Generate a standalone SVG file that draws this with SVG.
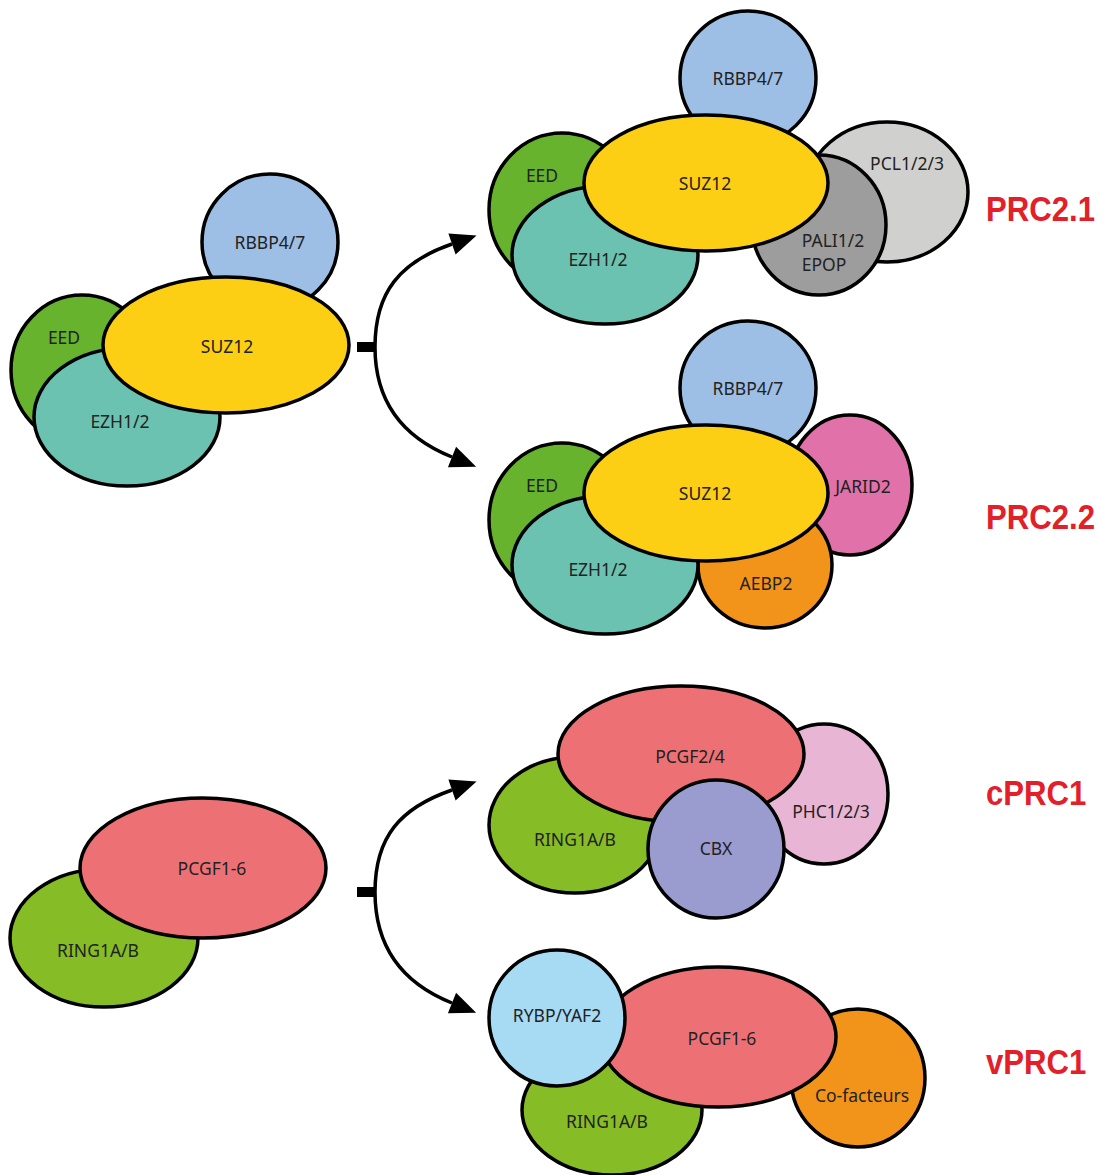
<svg xmlns="http://www.w3.org/2000/svg" width="1103" height="1175" viewBox="0 0 1103 1175">
<style>
.n{stroke:#000;stroke-width:3.5}
.t{font-family:"Noto Sans","Open Sans",sans-serif;font-size:17.5px;fill:#222;text-anchor:middle;dominant-baseline:central}
.lbl{font-family:"Liberation Sans",Arial,sans-serif;font-weight:bold;font-size:35px;fill:#e3202a}
.c{fill:none;stroke:#000;stroke-width:3.5}
.rbbp{fill:#9dbfe5}.eed{fill:#67b32e}.ezh{fill:#6bc2b0}.suz{fill:#fccf14}
.pcl{fill:#d0d0cf}.pali{fill:#9d9d9d}.jarid{fill:#e171a9}.aebp{fill:#f2941a}
.pcgf{fill:#ed7174}.ring{fill:#86bc25}.phc{fill:#e9b5d4}.cbx{fill:#9a9bcf}.rybp{fill:#a7daf3}.cof{fill:#f2941a}
</style>
<defs>
<marker id="ah" markerUnits="userSpaceOnUse" markerWidth="30" markerHeight="30" viewBox="-2 -15 30 30" refX="0" refY="0" orient="auto">
<path d="M0,-11 L26,0 L0,11 Z" fill="#000"/>
</marker>
</defs>

<g id="prc2-base">
<g id="n-rbbp-a"><ellipse class="n rbbp" cx="270" cy="242" rx="68" ry="68"/><text class="t" x="270" y="242">RBBP4/7</text></g>
<g id="n-eed-a"><ellipse class="n eed" cx="82" cy="370" rx="71" ry="75"/><text class="t" x="64" y="337">EED</text></g>
<g id="n-ezh-a"><ellipse class="n ezh" cx="127" cy="417" rx="93" ry="69"/><text class="t" x="120" y="421">EZH1/2</text></g>
<g id="n-suz-a"><ellipse class="n suz" cx="226" cy="345" rx="123" ry="68"/><text class="t" x="227" y="346">SUZ12</text></g>
</g>

<g id="prc2-1">
<g id="n-rbbp-b"><ellipse class="n rbbp" cx="748" cy="78" rx="68" ry="67"/><text class="t" x="748" y="78">RBBP4/7</text></g>
<g id="n-pcl"><ellipse class="n pcl" cx="887" cy="192" rx="81" ry="70"/><text class="t" x="907" y="163">PCL1/2/3</text></g>
<g id="n-pali"><ellipse class="n pali" cx="819" cy="225" rx="67" ry="70"/><text class="t" x="833" y="240">PALI1/2</text><text class="t" x="824" y="264">EPOP</text></g>
<g id="n-eed-b"><ellipse class="n eed" cx="562" cy="210" rx="73" ry="77"/><text class="t" x="542" y="175">EED</text></g>
<g id="n-ezh-b"><ellipse class="n ezh" cx="605" cy="255" rx="93" ry="69"/><text class="t" x="598" y="259">EZH1/2</text></g>
<g id="n-suz-b"><ellipse class="n suz" cx="706" cy="183" rx="122" ry="68"/><text class="t" x="705" y="183">SUZ12</text></g>
</g>

<g id="prc2-2">
<g id="n-rbbp-c"><ellipse class="n rbbp" cx="748" cy="388" rx="68" ry="67"/><text class="t" x="748" y="388">RBBP4/7</text></g>
<g id="n-jarid"><ellipse class="n jarid" cx="850" cy="485" rx="62" ry="70"/><text class="t" x="863" y="486">JARID2</text></g>
<g id="n-aebp"><ellipse class="n aebp" cx="765" cy="565" rx="67" ry="63"/><text class="t" x="766" y="583">AEBP2</text></g>
<g id="n-eed-c"><ellipse class="n eed" cx="562" cy="520" rx="73" ry="77"/><text class="t" x="542" y="485">EED</text></g>
<g id="n-ezh-c"><ellipse class="n ezh" cx="605" cy="565" rx="93" ry="69"/><text class="t" x="598" y="569">EZH1/2</text></g>
<g id="n-suz-c"><ellipse class="n suz" cx="706" cy="493" rx="122" ry="68"/><text class="t" x="705" y="493">SUZ12</text></g>
</g>

<g id="prc1-base">
<g id="n-ring-a"><ellipse class="n ring" cx="104" cy="938" rx="94" ry="69"/><text class="t" x="98" y="950">RING1A/B</text></g>
<g id="n-pcgf-a"><ellipse class="n pcgf" cx="203" cy="868" rx="123" ry="70"/><text class="t" x="212" y="868">PCGF1-6</text></g>
</g>

<g id="cprc1">
<g id="n-ring-b"><ellipse class="n ring" cx="575" cy="825" rx="86" ry="68"/><text class="t" x="575" y="839">RING1A/B</text></g>
<g id="n-phc"><ellipse class="n phc" cx="824" cy="794" rx="64" ry="70"/><text class="t" x="831" y="811">PHC1/2/3</text></g>
<g id="n-pcgf-b"><ellipse class="n pcgf" cx="681" cy="754" rx="123" ry="68"/><text class="t" x="690" y="756">PCGF2/4</text></g>
<g id="n-cbx"><ellipse class="n cbx" cx="716" cy="849" rx="68" ry="69"/><text class="t" x="716" y="848">CBX</text></g>
</g>

<g id="vprc1">
<g id="n-ring-c"><ellipse class="n ring" cx="612" cy="1110" rx="90" ry="65"/><text class="t" x="607" y="1121">RING1A/B</text></g>
<g id="n-cof"><ellipse class="n cof" cx="858" cy="1078" rx="67" ry="69"/><text class="t" x="862" y="1095">Co-facteurs</text></g>
<g id="n-pcgf-c"><ellipse class="n pcgf" cx="718" cy="1037" rx="118" ry="70"/><text class="t" x="722" y="1038">PCGF1-6</text></g>
<g id="n-rybp"><ellipse class="n rybp" cx="557" cy="1018" rx="68" ry="68"/><text class="t" x="557" y="1015">RYBP/YAF2</text></g>
</g>

<g id="connectors">
<rect x="357" y="342" width="18" height="10" fill="#000"/>
<path class="c" d="M375,347 C375,292 400,262 452,244" marker-end="url(#ah)"/>
<path class="c" d="M375,347 C375,402 402,437 452,457" marker-end="url(#ah)"/>
<rect x="357" y="887" width="18" height="10" fill="#000"/>
<path class="c" d="M375,892 C375,837 400,808 452,790" marker-end="url(#ah)"/>
<path class="c" d="M375,892 C375,947 402,983 452,1003" marker-end="url(#ah)"/>
</g>

<g id="labels">
<text class="lbl" transform="translate(986,221) scale(0.89,1)">PRC2.1</text>
<text class="lbl" transform="translate(986,529) scale(0.89,1)">PRC2.2</text>
<text class="lbl" transform="translate(986,805) scale(0.89,1)">cPRC1</text>
<text class="lbl" transform="translate(986,1074) scale(0.89,1)">vPRC1</text>
</g>
</svg>
